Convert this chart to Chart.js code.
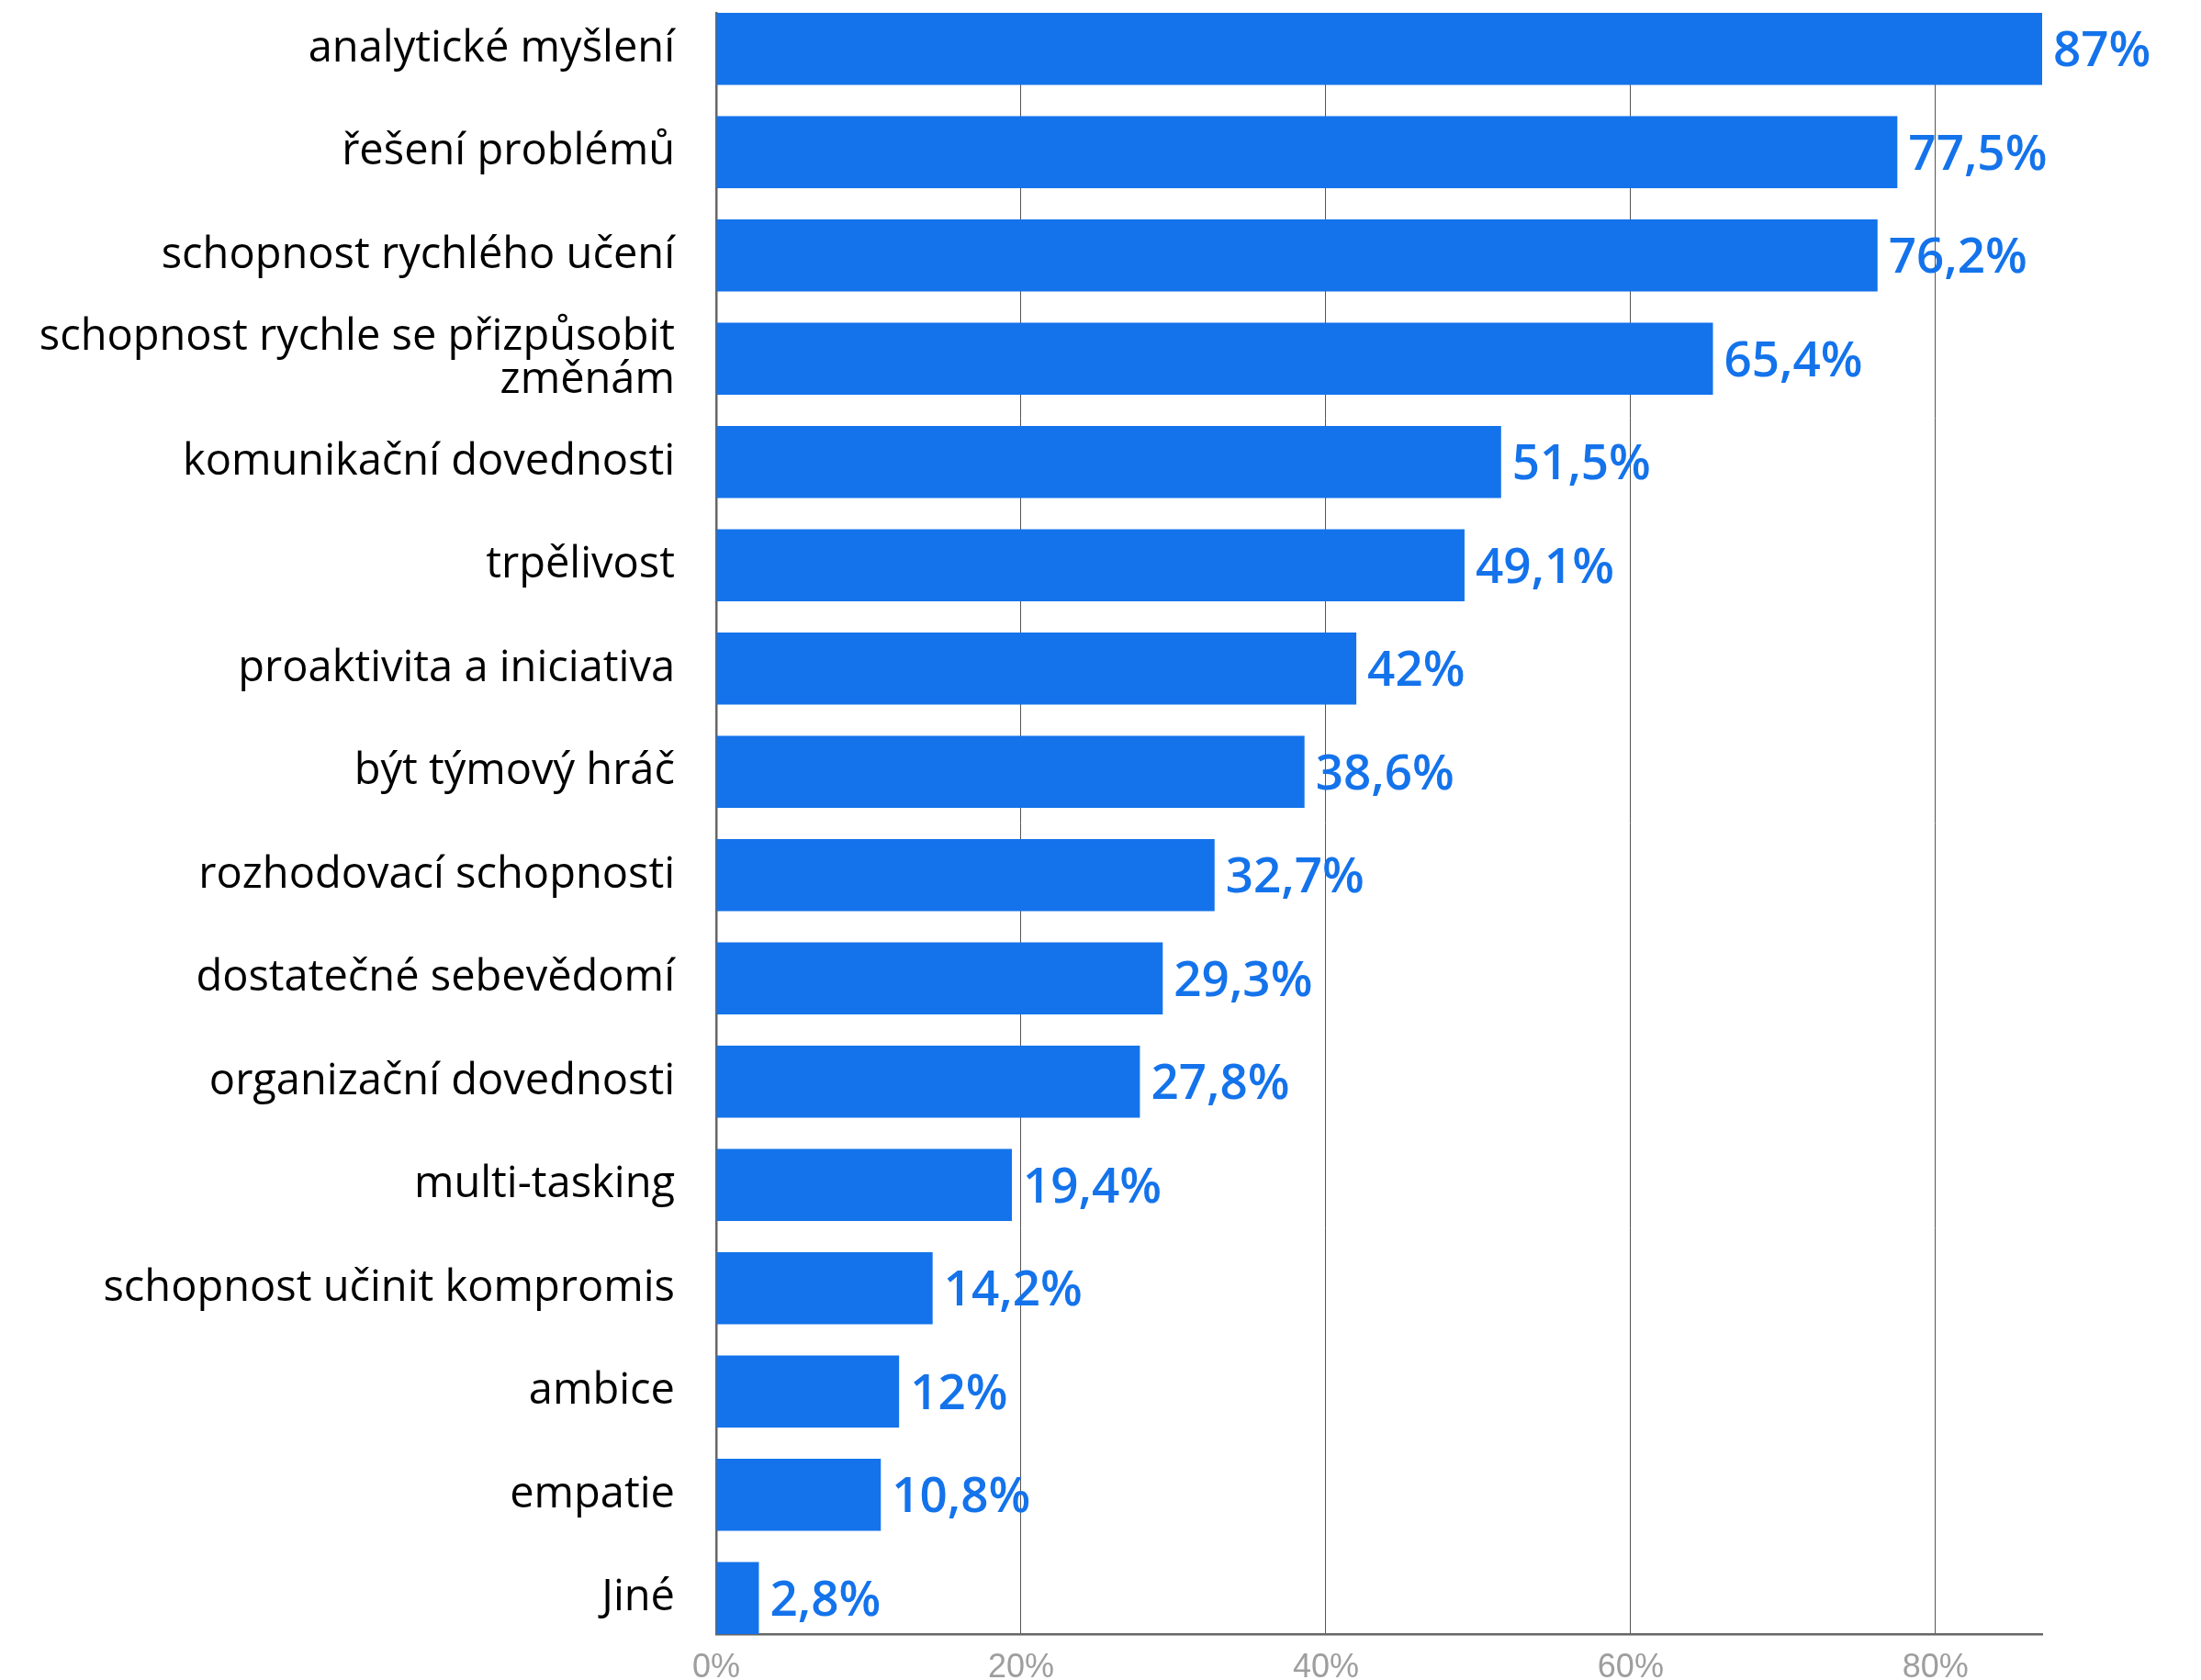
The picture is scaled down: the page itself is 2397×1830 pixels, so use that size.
<!DOCTYPE html>
<html>
<head>
<meta charset="utf-8">
<script src="https://cdn.jsdelivr.net/npm/chart.js@4/dist/chart.umd.min.js"></script>
<style>
  html, body { margin: 0; padding: 0; background: #ffffff; }
  #c { display: block; }
</style>
</head>
<body>
<canvas id="c" width="2397" height="1830"></canvas>
<script>
// Skills ranked by share of respondents (%)
const categories = [
  'analytické myšlení',
  'řešení problémů',
  'schopnost rychlého učení',
  ['schopnost rychle se přizpůsobit', 'změnám'],
  'komunikační dovednosti',
  'trpělivost',
  'proaktivita a iniciativa',
  'být týmový hráč',
  'rozhodovací schopnosti',
  'dostatečné sebevědomí',
  'organizační dovednosti',
  'multi-tasking',
  'schopnost učinit kompromis',
  'ambice',
  'empatie',
  'Jiné'
];
const shares = [87, 77.5, 76.2, 65.4, 51.5, 49.1, 42, 38.6, 32.7, 29.3, 27.8, 19.4, 14.2, 12, 10.8, 2.8];
const xTickValues = [0, 20, 40, 60, 80];

const BLUE = '#1473EB';
const LABEL_FONT = '"Open Sans", "Noto Sans", sans-serif';
const TICK_FONT = '"Liberation Sans Narrow", "Arial Narrow", "Liberation Sans", sans-serif';

// Czech number formatting: decimal comma, percent sign
const fmtPct = v => String(v).replace('.', ',') + '%';

// Bars sit on a numeric index axis so the first and last bars touch the plot edges
const HALF_BAR = 0.349;

const valueLabels = {
  id: 'valueLabels',
  afterDatasetsDraw(chart) {
    const ctx = chart.ctx;
    const meta = chart.getDatasetMeta(0);
    ctx.save();
    ctx.font = '600 53px ' + LABEL_FONT;
    ctx.fillStyle = BLUE;
    ctx.textAlign = 'left';
    ctx.textBaseline = 'middle';
    meta.data.forEach((bar, i) => {
      ctx.fillText(fmtPct(shares[i]), bar.x + 12, bar.y + 4);
    });
    ctx.restore();
  }
};

function draw() {
  new Chart(document.getElementById('c'), {
    type: 'bar',
    data: {
      datasets: [{
        data: shares.map((v, i) => ({ x: v, y: i })),
        backgroundColor: BLUE,
        borderWidth: 0,
        barPercentage: 0.698,
        categoryPercentage: 1.0
      }]
    },
    options: {
      indexAxis: 'y',
      responsive: false,
      devicePixelRatio: 1,
      animation: false,
      layout: { padding: { top: 14, right: 173, bottom: 0, left: 0 } },
      plugins: {
        legend: { display: false },
        tooltip: { enabled: false }
      },
      scales: {
        x: {
          type: 'linear',
          min: 0,
          max: 87,
          afterBuildTicks: s => { s.ticks = xTickValues.map(v => ({ value: v })); },
          afterFit: s => { s.height = 50; },
          ticks: {
            callback: v => v + '%',
            color: '#9e9e9e',
            font: { family: TICK_FONT, size: 36 },
            padding: 15
          },
          grid: { color: '#555555', lineWidth: 1, drawTicks: false },
          border: { display: true, color: '#666666', width: 2.5 }
        },
        y: {
          type: 'linear',
          reverse: true,
          offset: false,
          min: -HALF_BAR,
          max: categories.length - 1 + HALF_BAR,
          afterBuildTicks: s => { s.ticks = categories.map((_, i) => ({ value: i })); },
          afterFit: s => { s.width = 780; s.paddingTop = 0; s.paddingBottom = 0; },
          ticks: {
            callback: v => categories[v],
            color: '#000000',
            font: { family: LABEL_FONT, size: 47, lineHeight: 1.0 },
            padding: 45
          },
          grid: { display: false, drawTicks: false, offset: false },
          border: { display: true, color: '#666666', width: 2.5 }
        }
      }
    },
    plugins: [valueLabels]
  });
}

if (document.fonts && document.fonts.load) {
  Promise.all([
    document.fonts.load('47px "Open Sans"'),
    document.fonts.load('600 53px "Open Sans"'),
    document.fonts.load('36px "Liberation Sans Narrow"')
  ]).then(draw, draw);
} else {
  draw();
}
</script>
</body>
</html>
